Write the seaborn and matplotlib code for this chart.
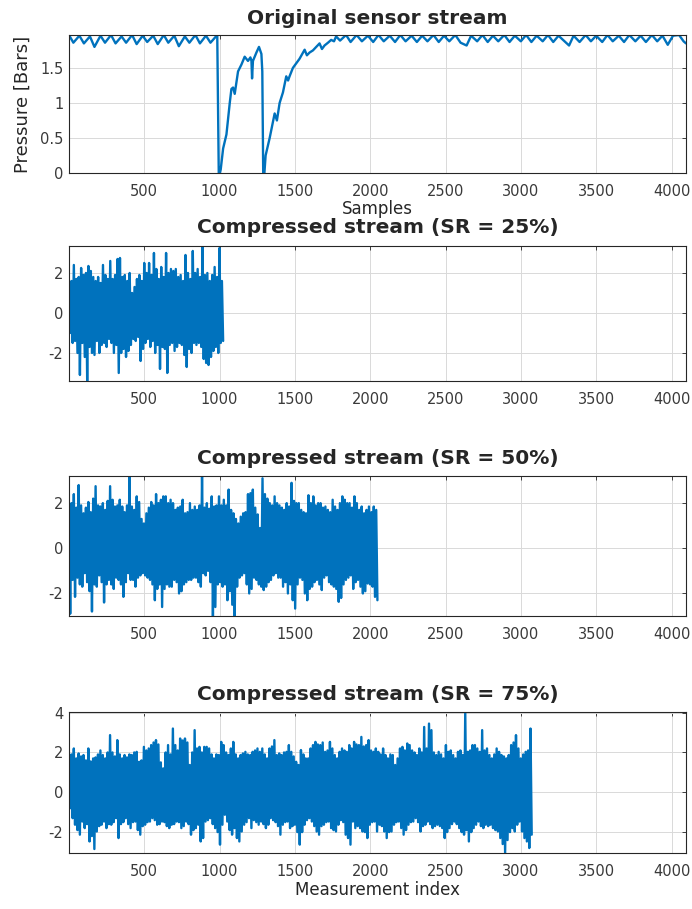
import numpy as np
import pandas as pd
import matplotlib
matplotlib.use("Agg")
import matplotlib.pyplot as plt
from matplotlib.ticker import FixedLocator, FuncFormatter
import seaborn as sns

# ---------------------------------------------------------------- data
N_SAMPLES = 4096
x_ticks = [500, 1000, 1500, 2000, 2500, 3000, 3500, 4000]

# raw pressure stream (sample index, bars)
orig_sample = [1, 30, 70, 100, 140, 170, 210, 240, 280, 310, 350, 380, 420, 450, 490, 520,
               560, 590, 630, 660, 700, 730, 770, 800, 840, 870, 910, 940, 985, 995, 1003,
               1008, 1024, 1046, 1068, 1079, 1090, 1101, 1123, 1146, 1167, 1189, 1205, 1212,
               1216, 1222, 1245, 1262, 1278, 1284, 1290, 1298, 1306, 1333, 1366, 1381, 1399,
               1421, 1443, 1455, 1465, 1487, 1531, 1565, 1580, 1598, 1620, 1642, 1664, 1680,
               1697, 1720, 1741, 1760, 1774, 1800, 1840, 1870, 1910, 1945, 1985, 2020, 2055,
               2090, 2130, 2165, 2200, 2235, 2275, 2310, 2345, 2380, 2420, 2455, 2490, 2525,
               2565, 2600, 2640, 2670, 2710, 2745, 2780, 2815, 2850, 2890, 2925, 2960, 3000,
               3035, 3070, 3105, 3145, 3180, 3215, 3250, 3290, 3320, 3350, 3390, 3430, 3465,
               3500, 3540, 3575, 3610, 3650, 3685, 3720, 3760, 3795, 3830, 3870, 3905, 3940,
               3975, 4010, 4050, 4080, 4096]
orig_pressure = [1.97, 1.86, 1.96, 1.85, 1.95, 1.80, 1.96, 1.86, 1.97, 1.85, 1.95, 1.86, 1.97,
                 1.84, 1.96, 1.87, 1.96, 1.84, 1.97, 1.86, 1.96, 1.81, 1.95, 1.86, 1.97, 1.85,
                 1.96, 1.86, 1.97, 0.0, 0.0, 0.05, 0.35, 0.55, 1.0, 1.2, 1.22, 1.13, 1.45, 1.55,
                 1.66, 1.6, 1.65, 1.6, 1.35, 1.6, 1.72, 1.8, 1.7, 1.45, 0.0, 0.0, 0.25, 0.5,
                 0.85, 0.75, 1.0, 1.15, 1.38, 1.32, 1.38, 1.5, 1.63, 1.76, 1.68, 1.72, 1.75,
                 1.8, 1.85, 1.77, 1.82, 1.86, 1.9, 1.88, 1.95, 1.89, 1.97, 1.87, 1.97, 1.88,
                 1.96, 1.87, 1.97, 1.88, 1.96, 1.87, 1.97, 1.88, 1.96, 1.87, 1.96, 1.88, 1.97,
                 1.87, 1.96, 1.88, 1.97, 1.86, 1.82, 1.96, 1.88, 1.97, 1.87, 1.96, 1.88, 1.97,
                 1.87, 1.96, 1.88, 1.97, 1.87, 1.96, 1.88, 1.97, 1.87, 1.96, 1.88, 1.82, 1.96,
                 1.87, 1.97, 1.88, 1.96, 1.87, 1.97, 1.88, 1.96, 1.87, 1.97, 1.88, 1.96, 1.87,
                 1.97, 1.88, 1.96, 1.83, 1.96, 1.97, 1.88, 1.85]

# compressed measurements: successive local maxima / minima of each stream
sr25_upper = [1.5, 1.6, 2.4, 1.7, 1.8, 2.25, 1.9, 2.0, 2.35, 2.1,
              1.8, 1.6, 1.8, 1.5, 2.4, 1.9, 1.7, 2.6, 1.7, 1.9,
              2.7, 2.75, 1.8, 1.9, 1.6, 2.0, 1.0, 1.3, 1.7, 1.9,
              1.6, 2.5, 2.0, 2.5, 1.9, 3.0, 2.2, 1.7, 2.3, 1.8,
              3.0, 2.0, 2.2, 2.1, 2.2, 1.8, 1.9, 1.6, 2.9, 2.0,
              1.7, 3.1, 2.0, 2.2, 1.8, 3.35, 1.9, 2.0, 1.6, 1.9,
              2.3, 1.8, 3.25, 1.6]
sr25_lower = [-1.0, -1.5, -1.4, -2.0, -3.1, -1.5, -2.2, -3.4, -1.7, -2.0,
              -2.1, -1.4, -2.0, -1.6, -1.5, -1.7, -1.3, -1.5, -2.0, -1.6,
              -3.0, -2.0, -1.8, -2.2, -1.9, -1.6, -1.3, -1.4, -1.2, -2.4,
              -1.8, -1.5, -1.3, -1.7, -1.4, -2.0, -1.6, -2.8, -1.7, -1.8,
              -3.0, -1.6, -1.5, -1.9, -1.7, -1.5, -1.6, -2.1, -2.7, -1.8,
              -2.0, -1.5, -1.6, -1.5, -1.7, -2.3, -2.5, -2.6, -2.2, -1.9,
              -1.7, -2.0, -1.5, -1.4]

sr50_upper = [1.7, 2.0, 2.4, 1.8, 2.8, 1.9, 1.55, 1.8, 2.05, 1.6,
              2.2, 2.75, 1.9, 1.85, 2.0, 1.7, 2.1, 2.75, 2.15, 1.85,
              1.9, 2.15, 1.85, 1.6, 1.9, 3.2, 1.85, 1.7, 2.3, 2.05,
              1.3, 1.1, 1.55, 1.8, 2.05, 1.9, 2.4, 2.0, 2.15, 2.3,
              2.3, 2.0, 2.15, 2.0, 1.7, 1.8, 1.85, 2.15, 1.55, 1.6,
              2.0, 1.7, 1.85, 1.7, 1.9, 3.2, 1.8, 2.0, 1.75, 2.3,
              1.85, 1.9, 2.3, 1.9,
              2.15, 1.9, 2.6, 1.7, 1.55, 1.3, 1.1, 1.4, 1.55, 1.6,
              2.4, 2.44, 2.6, 1.8, 1.5, 0.9, 3.1, 2.4, 2.2, 2.0,
              1.9, 2.3, 2.0, 1.9, 1.8, 1.7, 2.0, 1.85, 2.9, 2.1,
              2.0, 2.0, 1.7, 1.6, 1.55, 2.35, 2.0, 2.3, 1.9, 2.0,
              2.0, 1.8, 1.85, 1.7, 1.6, 2.15, 1.85, 1.7, 2.0, 2.3,
              2.15, 2.0, 2.0, 1.8, 2.3, 2.0, 1.7, 1.85, 1.55, 1.7,
              1.85, 1.6, 1.85, 1.7]
sr50_lower = [-2.9, -1.4, -2.15, -1.3, -1.6, -1.7, -1.1, -1.5, -1.9, -2.8,
              -1.6, -1.7, -1.2, -1.5, -2.4, -1.6, -1.4, -1.6, -1.8, -1.3,
              -1.4, -1.6, -2.15, -1.5, -1.1, -1.4, -1.4, -1.7, -1.3, -1.2,
              -1.1, -1.2, -1.3, -1.4, -1.6, -2.3, -1.8, -1.6, -2.6, -1.8,
              -1.6, -1.7, -1.7, -1.4, -1.5, -2.0, -1.9, -1.6, -1.5, -1.4,
              -1.4, -1.3, -1.3, -1.5, -1.7, -1.1, -1.2, -1.0, -1.5, -3.0,
              -2.6, -1.6, -1.5, -1.7,
              -1.6, -2.3, -1.9, -2.5, -3.0, -1.7, -1.3, -1.2, -1.1, -1.6,
              -2.0, -1.8, -1.3, -1.4, -1.6, -1.7, -1.85, -1.7, -1.5, -1.4,
              -1.2, -1.1, -1.3, -1.3, -1.7, -1.5, -2.0, -1.6, -2.3, -2.67,
              -1.6, -1.3, -1.4, -2.0, -2.3, -1.8, -1.7, -1.5, -1.4, -1.6,
              -1.85, -1.3, -1.2, -1.5, -1.6, -1.7, -1.8, -2.37, -2.2, -1.6,
              -1.4, -1.3, -1.2, -1.8, -1.5, -1.4, -1.7, -2.0, -1.9, -1.56,
              -1.6, -1.7, -2.15, -2.3]

sr75_upper = [1.3, 1.9, 2.2, 1.7, 1.95, 1.8, 1.87, 1.6, 2.2, 1.55,
              1.7, 1.75, 1.9, 2.1, 1.87, 1.7, 2.0, 2.87, 2.0, 1.8,
              2.62, 1.9, 1.7, 1.87, 1.75, 1.9, 1.87, 2.0, 2.03, 1.53,
              1.6, 2.28, 2.1, 2.2, 2.37, 2.5, 2.62, 2.4, 1.5, 1.2,
              2.0, 2.37, 1.9, 3.2, 2.37, 2.1, 2.7, 2.6, 2.7, 2.5,
              1.37, 2.0, 3.12, 2.2, 2.28, 2.0, 2.28, 2.28, 2.2, 1.9,
              1.7, 1.9, 1.87, 2.53,
              2.37, 2.0, 1.87, 2.2, 2.53, 1.9, 1.7, 1.87, 1.95, 2.03,
              1.9, 1.87, 2.03, 2.1, 2.2, 2.03, 2.2, 1.9, 1.7, 2.2,
              2.3, 2.62, 1.87, 1.95, 1.87, 2.0, 2.03, 2.37, 2.03, 1.8,
              1.53, 1.37, 2.12, 1.9, 1.7, 1.7, 2.2, 2.37, 2.53, 2.4,
              2.37, 2.5, 2.03, 2.1, 2.53, 2.2, 1.87, 1.7, 2.03, 2.2,
              2.1, 2.03, 2.37, 2.2, 2.53, 2.4, 2.37, 2.78, 2.3, 2.37,
              2.62, 2.1, 2.03, 2.2,
              2.03, 1.9, 2.2, 1.87, 1.7, 1.9, 1.87, 1.37, 1.7, 2.2,
              2.28, 2.1, 2.45, 2.37, 2.1, 2.0, 1.87, 2.2, 2.0, 3.28,
              2.2, 3.45, 3.12, 2.0, 1.87, 2.03, 1.9, 1.7, 2.37, 2.03,
              2.1, 1.87, 1.7, 2.03, 2.1, 1.87, 4.03, 2.03, 2.1, 2.37,
              2.37, 2.2, 2.03, 3.12, 2.1, 2.2, 1.87, 1.7, 1.9, 2.2,
              2.03, 1.87, 1.8, 1.7, 1.87, 2.37, 2.5, 2.87, 2.2, 1.7,
              1.9, 2.03, 2.1, 3.2]
sr75_lower = [-0.8, -1.3, -1.63, -1.9, -2.13, -1.47, -1.8, -1.6, -2.47, -2.2,
              -2.85, -1.97, -1.7, -1.63, -1.47, -1.8, -1.6, -1.63, -1.5, -1.3,
              -2.3, -1.6, -1.5, -1.3, -1.6, -1.8, -1.5, -1.47, -1.9, -2.13,
              -1.7, -1.63, -1.5, -1.47, -1.3, -1.4, -1.63, -1.6, -1.47, -1.5,
              -1.7, -1.8, -1.63, -1.6, -1.47, -1.5, -1.8, -1.7, -1.47, -1.6,
              -2.13, -1.9, -1.8, -1.63, -2.47, -2.3, -1.47, -1.4, -1.3, -1.6,
              -1.8, -2.0, -2.63, -1.63,
              -1.13, -1.47, -1.9, -2.13, -1.8, -2.3, -2.47, -1.97, -1.63, -1.5,
              -1.3, -1.8, -1.4, -1.5, -1.63, -1.47, -1.6, -1.8, -1.63, -1.3,
              -1.4, -1.5, -1.7, -2.13, -1.63, -1.5, -1.47, -1.8, -1.7, -1.63,
              -2.0, -2.63, -2.0, -1.63, -1.4, -1.3, -1.47, -1.7, -1.97, -2.13,
              -1.7, -1.63, -1.5, -1.47, -1.8, -1.9, -1.97, -1.63, -1.4, -1.5,
              -2.13, -2.3, -2.63, -1.47, -1.8, -1.7, -1.8, -1.97, -2.0, -2.3,
              -1.63, -1.5, -1.47, -1.97,
              -1.63, -1.7, -1.97, -2.3, -2.0, -1.97, -1.63, -1.5, -1.47, -1.8,
              -2.13, -1.9, -1.63, -1.5, -1.47, -1.3, -1.5, -1.97, -1.7, -1.63,
              -1.47, -1.6, -1.8, -1.7, -1.63, -1.7, -1.8, -2.3, -2.0, -1.8,
              -1.6, -1.47, -1.6, -1.8, -2.0, -2.13, -1.9, -2.47, -2.0, -1.8,
              -1.63, -1.47, -1.7, -1.8, -1.63, -1.7, -1.63, -1.8, -1.9, -1.97,
              -2.3, -2.6, -3.05, -2.4, -2.0, -1.8, -1.97, -1.63, -1.47, -1.97,
              -2.3, -2.47, -2.8, -2.13]

streams = [
    ("Compressed stream (SR = 25%)", 1024, sr25_upper, sr25_lower, [-2, 0, 2]),
    ("Compressed stream (SR = 50%)", 2048, sr50_upper, sr50_lower, [-2, 0, 2]),
    ("Compressed stream (SR = 75%)", 3072, sr75_upper, sr75_lower, [-2, 0, 2, 4]),
]

# ---------------------------------------------------------------- style
sns.set_style("white")
plt.rcParams["font.family"] = ["DejaVu Sans"]
LINE = "#0072BD"
DARK = "#262626"

fig = plt.figure(figsize=(6.92, 9.09), dpi=100)

left, width = 0.0997, 0.8916
positions = [
    [left, 0.8097, width, 0.1518],
    [left, 0.5809, width, 0.1485],
    [left, 0.3223, width, 0.1540],
    [left, 0.0616, width, 0.1551],
]
axes = [fig.add_axes(p) for p in positions]

fmt = FuncFormatter(lambda v, p: f"{v:g}")


def style_axes(ax, yticks):
    ax.set_xlim(1, N_SAMPLES)
    ax.xaxis.set_major_locator(FixedLocator(x_ticks))
    ax.yaxis.set_major_locator(FixedLocator(yticks))
    ax.xaxis.set_major_formatter(fmt)
    ax.yaxis.set_major_formatter(fmt)
    ax.grid(True, color="#d9d9d9", linewidth=0.7)
    ax.set_axisbelow(True)
    ax.tick_params(axis="both", direction="in", top=True, right=True, length=3,
                   width=0.6, color=DARK, labelcolor="#3a3a3a", labelsize=10.5)
    ax.tick_params(axis="x", pad=8)
    ax.tick_params(axis="y", pad=4)
    for s in ax.spines.values():
        s.set_visible(True)
        s.set_color(DARK)
        s.set_linewidth(0.8)


# original pressure stream
ax = axes[0]
orig_df = pd.DataFrame({"sample": orig_sample, "pressure": orig_pressure})
sns.lineplot(data=orig_df, x="sample", y="pressure", ax=ax, color=LINE,
             linewidth=1.7, sort=False, estimator=None)
style_axes(ax, [0, 0.5, 1, 1.5])
ax.set_ylim(min(orig_pressure), max(orig_pressure))
ax.set_title("Original sensor stream", fontsize=14.5, fontweight="bold", pad=8)
ax.set_xlabel("Samples", fontsize=12, color=DARK, labelpad=1)
ax.set_ylabel("Pressure [Bars]", fontsize=13, color=DARK, labelpad=6)

# compressed streams
for ax, (title, n_meas, upper, lower, yt) in zip(axes[1:], streams):
    vals = np.column_stack([upper, lower]).ravel()
    idx = np.linspace(1, n_meas, len(vals))
    df = pd.DataFrame({"index": idx, "value": vals})
    sns.lineplot(data=df, x="index", y="value", ax=ax, color=LINE,
                 linewidth=1.7, sort=False, estimator=None)
    style_axes(ax, yt)
    ax.set_ylim(vals.min(), vals.max())
    ax.set_title(title, fontsize=14.5, fontweight="bold", pad=9)
    ax.set_xlabel("")
    ax.set_ylabel("")

axes[-1].set_xlabel("Measurement index", fontsize=12, color=DARK, labelpad=1)

fig.savefig("out.png", dpi=100)
